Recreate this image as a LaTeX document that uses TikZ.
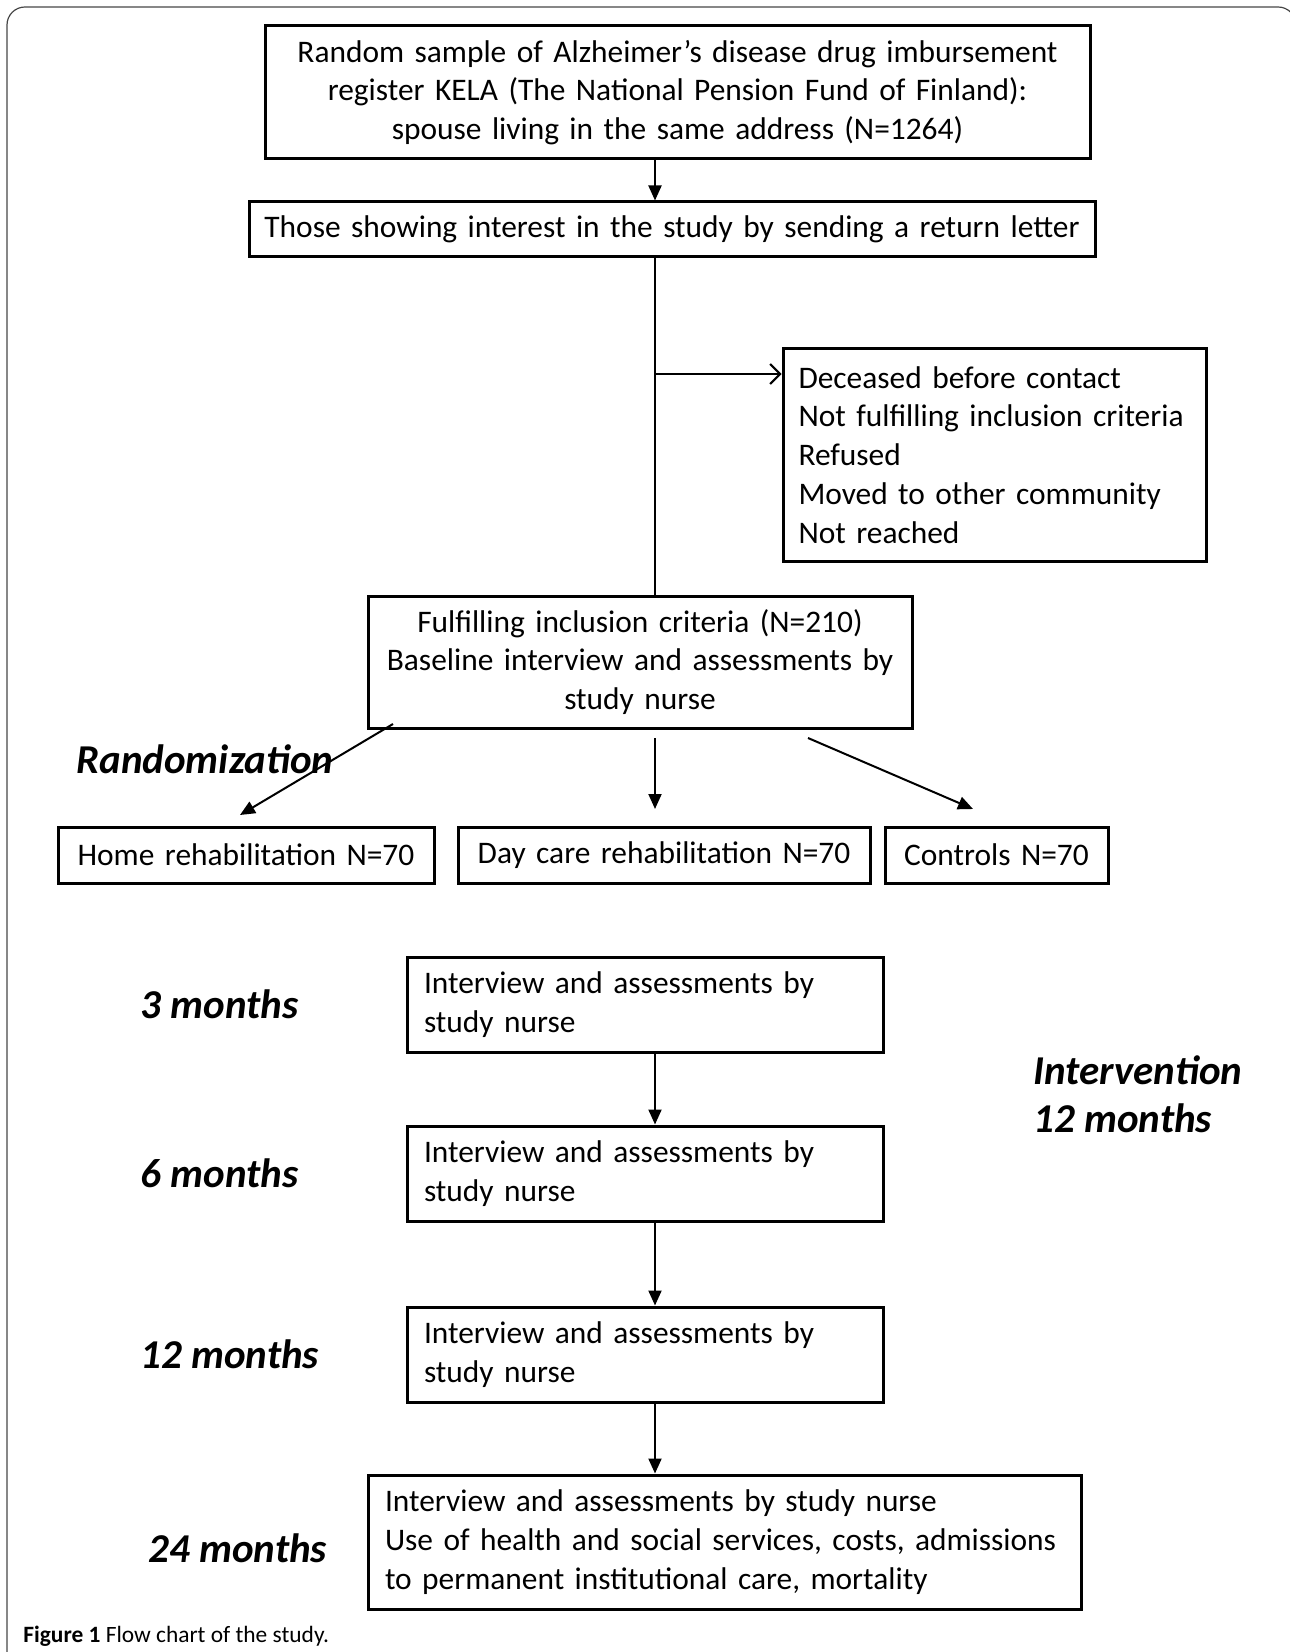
\documentclass[tikz,border=0pt]{standalone}
\usepackage{fontspec}
\setmainfont{Carlito}
\usetikzlibrary{arrows.meta,calc}
\definecolor{framegray}{RGB}{70,70,70}
\newcommand{\boxfont}{\fontsize{15.7}{19.4}\selectfont}
\newcommand{\timefont}{\fontsize{20.5}{24.2}\selectfont\bfseries\itshape}
\tikzset{
  blk/.style={draw, line width=1.5pt, inner xsep=4pt, inner ysep=0pt, align=center, font=\boxfont},
  lblk/.style={blk, inner xsep=8.5pt, align=left},
  flowarr/.style={-{Triangle[length=7.5pt,width=6.5pt]}, line width=1pt},
  exarr/.style={-{Straight Barb[length=5pt,width=10pt]}, line width=1pt},
  tlab/.style={anchor=west, inner sep=0pt, font=\timefont, align=left},
}
\begin{document}
\begin{tikzpicture}[x=0.5pt, y=-0.5pt]
  \useasboundingbox (0,0) rectangle (1289,1652);
  \draw[framegray, line width=0.6pt, rounded corners=9pt] (7,1660) -- (7,7) -- (1296,7) -- (1296,1660);
  \coordinate (axis) at (655,0);

  \node[blk, text width=404.5pt, minimum height=66.5pt] (sample) at (677.5,92.5)
    {Random sample of Alzheimer’s disease drug imbursement\\ register KELA (The National Pension Fund of Finland):\\ spouse living in the same address (N=1264)};
  \node[blk, text width=415pt, minimum height=27.5pt] (letter) at (672,229.5)
    {Those showing interest in the study by sending a return letter};
  \node[lblk, inner xsep=7.75pt, text width=196pt, minimum height=106pt] (excl) at (994.5,455)
    {Deceased before contact\\ Not fulfilling inclusion criteria\\ Refused\\ Moved to other community\\ Not reached};
  \node[blk, text width=264pt, minimum height=66pt] (fulfil) at (640,662)
    {Fulfilling inclusion criteria (N=210)\\ Baseline interview and assessments by\\ study nurse};

  \node[tlab] (rand) at (76,759) {Randomization};
  \node[blk, text width=180pt, minimum height=28pt] (home) at (246,855) {Home rehabilitation N=70};
  \node[blk, text width=198pt, minimum height=28pt] (day) at (664,855) {Day care rehabilitation N=70};
  \node[blk, text width=103.5pt, minimum height=28pt] (ctrl) at (996.5,855) {Controls N=70};

  \node[lblk, text width=221pt, minimum height=47.5pt] (m3) at (645,1004.5) {Interview and assessments by\\ study nurse};
  \node[lblk, text width=221pt, minimum height=47.5pt] (m6) at (645,1173.5) {Interview and assessments by\\ study nurse};
  \node[lblk, text width=221pt, minimum height=47.5pt] (m12) at (645,1354.5) {Interview and assessments by\\ study nurse};
  \node[lblk, text width=339.5pt, minimum height=67pt] (m24) at (724.5,1542)
    {Interview and assessments by study nurse\\ Use of health and social services, costs, admissions\\ to permanent institutional care, mortality};

  \node[tlab] (t3) at (140,1004) {3 months};
  \node[tlab] (t6) at (140,1173) {6 months};
  \node[tlab] (t12) at (140,1354) {12 months};
  \node[tlab] (t24) at (148,1548) {24 months};
  \node[tlab] (interv) at (1033,1094) {Intervention\\ 12 months};

  \node[anchor=west, inner sep=0pt, font=\fontsize{11.7}{14}\selectfont] (cap) at (23,1636)
    {\textbf{Figure 1} Flow chart of the study.};

  \draw[flowarr] (sample.south -| axis) -- (letter.north -| axis);
  \draw[line width=1pt] (letter.south -| axis) -- (fulfil.north -| axis);
  \draw[exarr] (axis |- 0,374) -- (excl.west |- 0,374);

  \coordinate (rl0) at (393,724);
  \coordinate (rl1) at (240,815);
  \coordinate (rm0) at (655,738);
  \coordinate (rm1) at (655,809);
  \coordinate (rr0) at (808,738);
  \coordinate (rr1) at (973,809);
  \draw[flowarr] (rl0) -- (rl1);
  \draw[flowarr] (rm0) -- (rm1);
  \draw[flowarr] (rr0) -- (rr1);

  \draw[flowarr] (m3.south -| axis) -- (m6.north -| axis);
  \draw[flowarr] (m6.south -| axis) -- (m12.north -| axis);
  \draw[flowarr] (m12.south -| axis) -- (m24.north -| axis);
\end{tikzpicture}
\end{document}
